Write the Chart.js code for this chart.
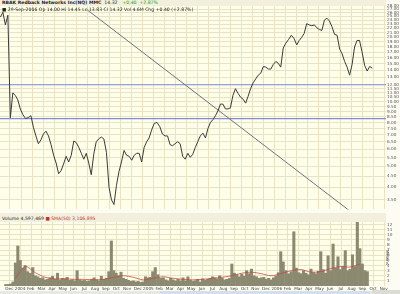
<!DOCTYPE html>
<html>
<head>
<meta charset="utf-8">
<script src="https://cdn.jsdelivr.net/npm/chart.js@4.4.0/dist/chart.umd.min.js"></script>
<style>
html, body { margin: 0; padding: 0; background: #fdfcf2; }
#wrap { position: relative; width: 400px; height: 294px; overflow: hidden; font-family: "DejaVu Sans", sans-serif; }
canvas { position: absolute; left: 0; }
#price { top: 0; }
#vol { top: 213px; }
.txt { position: absolute; white-space: nowrap; font-size: 4.6px; line-height: 5px; color: #222; }
#hdr1 { left: 0; top: 0; width: 386px; height: 6px; background: #f2f0dc; }
#hdr1 span, #hdr2 { padding-left: 2px; }
#hdr2 { left: 0; top: 7px; }
#volhdr { position: absolute; left: 0; top: 213px; width: 386px; height: 9px; background: #f2f0dc; }
#volhdr .txt { left: 2px; top: 3px; }
#millions { position: absolute; left: 390px; top: 250px; font-size: 4px; color: #444; transform: rotate(90deg); transform-origin: left top; }
#scroll { position: absolute; left: 0; top: 291px; width: 372px; height: 3px; background: #e8e8e2; }
#thumb { position: absolute; left: 160px; top: 291px; width: 210px; height: 3px; background: #d5deec; }
#btns { position: absolute; left: 372px; top: 290px; width: 28px; height: 4px; background: #dcdcd6; }
</style>
</head>
<body>
<div id="wrap">
  <canvas id="price" width="400" height="213"></canvas>
  <canvas id="vol" width="400" height="81"></canvas>
  <div id="hdr1" class="txt"><span><b>RBAK Redback Networks Inc(NQ) MMC</b> &nbsp;14.32 &nbsp;<span style="color:#1a9a1a">+0.40 &nbsp;+2.87%</span></span></div>
  <div id="hdr2" class="txt">&#9632; 29-Sep-2006 Op 14.00 Hi 14.45 Lo 13.83 Cl 14.32 Vol 4.6M Chg +0.40 (+2.87%)</div>
  <div id="volhdr"><div class="txt">Volume 4,597,469 <span style="color:#c03030">&#9632; SMA(50) 3,106,895</span></div></div>
  <div id="millions" class="txt">Millions</div>
  <div id="scroll"></div>
  <div id="thumb"></div>
  <div id="btns"></div>
</div>
<script>
// Weekly data, first week ending 5 Dec 2003
const firstWeek = '2003-12-05';

// Weekly closing prices (USD)
const weeklyClose = [
  24.8, 26.1, 22.8, 25.3, 8.43, 11.0, 10.7, 10.2, 9.26, 8.70,
  8.35, 8.43, 8.61, 7.60, 6.93, 6.37, 6.64, 7.07, 7.29, 6.93,
  6.31, 5.63, 5.18, 4.62, 4.77, 5.13, 5.57, 5.24, 5.63, 6.57,
  6.44, 6.12, 5.75, 5.40, 5.75, 5.18, 4.57, 5.69, 6.51, 6.71,
  6.85, 6.71, 5.81, 4.00, 3.49, 3.32, 4.08, 4.72, 5.24, 5.93,
  5.63, 5.57, 5.34, 5.63, 5.75, 5.75, 5.24, 6.12, 6.51, 6.78,
  7.37, 7.92, 8.01, 7.68, 7.07, 6.93, 6.93, 6.31, 6.24, 6.37,
  6.51, 6.37, 5.57, 5.40, 5.75, 5.51, 5.69, 6.12, 6.51, 6.93,
  7.14, 6.78, 7.52, 8.01, 8.26, 8.61, 9.07, 9.75, 9.75, 9.26,
  9.26, 9.36, 10.7, 11.5, 10.93, 10.49, 10.27, 9.85, 10.6, 11.5,
  12.25, 12.77, 13.3, 13.6, 14.6, 14.5, 14.2, 14.2, 14.92, 15.4,
  15.1, 14.5, 17.8, 18.75, 19.5, 20.4, 19.7, 18.4, 19.3, 19.95,
  20.8, 23.1, 22.8, 22.6, 22.8, 22.1, 21.7, 21.5, 24.0, 24.5,
  23.8, 22.4, 20.6, 20.4, 17.6, 16.7, 15.4, 14.5, 13.3, 14.92,
  18.0, 19.3, 19.3, 17.1, 14.8, 13.9, 14.6, 14.32
];

// Weekly volume (millions of shares)
const weeklyVolume = [
  0.3, 0.3, 0.4, 0.8, 4.5, 7.8, 5.0, 3.5, 4.0, 2.8,
  2.5, 3.6, 2.0, 1.8, 1.5, 1.6, 1.2, 1.3, 1.6, 1.9,
  1.3, 2.5, 1.2, 1.5, 1.4, 1.7, 1.1, 1.2, 1.0, 3.0,
  1.2, 1.0, 1.1, 0.9, 1.0, 1.3, 1.6, 1.2, 1.0, 1.9,
  1.3, 1.5, 2.8, 8.8, 3.0, 2.5, 2.0, 2.7, 1.5, 1.3,
  1.1, 0.9, 1.0, 0.8, 0.9, 0.7, 0.8, 1.8, 1.6, 1.7,
  2.8, 3.6, 2.2, 1.5, 1.6, 1.2, 1.0, 1.5, 1.2, 1.0,
  1.3, 1.0, 1.6, 1.0, 1.8, 1.1, 0.9, 1.0, 1.3, 0.8,
  1.4, 1.1, 1.3, 1.5, 1.8, 1.6, 1.4, 2.0, 1.5, 1.2,
  1.3, 1.5, 4.3, 2.5, 2.2, 1.8, 2.3, 1.9, 3.0, 2.4,
  3.3, 2.0, 1.8, 1.5, 1.6, 1.7, 1.3, 1.5, 1.2, 1.6,
  1.9, 2.6, 6.7, 4.7, 3.0, 2.4, 2.8, 10.6, 3.5, 2.6,
  2.4, 3.0, 2.5, 2.2, 3.3, 2.6, 2.4, 2.9, 6.7, 3.2,
  2.5, 5.9, 3.0, 8.2, 3.5, 5.7, 3.2, 3.8, 6.9, 3.0,
  3.3, 6.1, 3.8, 12.7, 7.3, 4.3, 3.0, 2.8
];

// 50-day volume average, read every 4th week starting at week 4
const volumeAvg50 = [
  1.5, 3.8, 2.6, 1.7, 1.4, 1.4, 1.3, 1.3, 1.2, 1.3,
  1.7, 2.0, 1.7, 1.2, 1.5, 1.8, 1.5, 1.3, 1.2, 1.3,
  1.5, 1.7, 2.0, 2.5, 2.7, 2.4, 2.0, 2.4, 3.0, 3.2,
  2.7, 2.8, 3.4, 3.8, 3.7, 4.3
];

// Trend line and the two horizontal lines
const trendDates = ['2004-08-03', '2006-08-03'];
const trendPrices = [26.7, 3.05];
const levelPrices = [12.0, 8.35];

// Axis labels
const priceTicks = [3.5, 4, 4.5, 5, 5.5, 6, 6.5, 7, 7.5, 8, 8.5, 9, 9.5, 10, 10.5, 11, 11.5, 12,
  13, 14, 15, 16, 17, 18, 19, 20, 21, 22, 23, 24, 25, 26, 27, 28];
const volumeTicks = [1, 2, 3, 4, 5, 6, 7, 8, 9, 10, 11, 12];
const monthNames = ['Jan', 'Feb', 'Mar', 'Apr', 'May', 'Jun', 'Jul', 'Aug', 'Sep', 'Oct', 'Nov', 'Dec'];

// months since 1 Jan 2004
function toMonths(d) {
  const y = d.getUTCFullYear(), m = d.getUTCMonth();
  const days = new Date(Date.UTC(y, m + 1, 0)).getUTCDate();
  return (y - 2004) * 12 + m + (d.getUTCDate() - 1) / days;
}
function parseDate(s) {
  const p = s.split('-').map(Number);
  return new Date(Date.UTC(p[0], p[1] - 1, p[2]));
}
function weekX(i) {
  const d = parseDate(firstWeek);
  d.setUTCDate(d.getUTCDate() + 7 * i);
  return toMonths(d);
}

const xMin = -0.909, xMax = 34.18;
const monthTicks = [];
for (let m = -1; m <= 34; m++) monthTicks.push(m);
function monthLabel(m) {
  const idx = ((m % 12) + 12) % 12;
  return idx === 0 ? String(2004 + Math.floor(m / 12)) : monthNames[idx];
}

const gridColor = '#e7e3c4';
const plotBg = {
  id: 'plotBg',
  beforeDraw(chart) {
    const a = chart.chartArea, c = chart.ctx;
    c.save();
    c.fillStyle = '#ffffe9';
    c.fillRect(a.left, a.top, a.right - a.left, a.bottom - a.top);
    c.restore();
  }
};

const xScale = (showLabels) => ({
  type: 'linear', min: xMin, max: xMax,
  afterBuildTicks: s => { s.ticks = monthTicks.map(v => ({ value: v })); },
  afterFit: s => { s.height = showLabels ? 5 : 0; },
  ticks: {
    display: showLabels, autoSkip: false, maxRotation: 0, padding: 0, labelOffset: 5,
    font: { family: 'DejaVu Sans', size: 4.2 }, color: '#444',
    callback: v => monthLabel(v)
  },
  grid: { color: gridColor, drawTicks: false },
  border: { display: false }
});

// Price panel
new Chart(document.getElementById('price'), {
  type: 'line',
  data: {
    datasets: [
      {
        data: weeklyClose.map((v, i) => ({ x: weekX(i), y: v })),
        borderColor: '#3a3a3a', borderWidth: 1, pointRadius: 0, tension: 0
      },
      {
        data: trendDates.map((d, i) => ({ x: toMonths(parseDate(d)), y: trendPrices[i] })),
        borderColor: '#70707e', borderWidth: 1, pointRadius: 0
      },
      ...levelPrices.map(p => ({
        data: [{ x: xMin, y: p }, { x: xMax, y: p }],
        borderColor: '#7d8de2', borderWidth: 1.2, pointRadius: 0
      }))
    ]
  },
  options: {
    responsive: false, animation: false,
    layout: { padding: 0 },
    plugins: { legend: { display: false }, tooltip: { enabled: false } },
    scales: {
      x: xScale(false),
      y: {
        type: 'logarithmic', position: 'right', min: 3.148, max: 28.68,
        afterBuildTicks: s => { s.ticks = priceTicks.map(v => ({ value: v })); },
        afterFit: s => { s.width = 14; },
        ticks: {
          autoSkip: false, padding: 1, font: { family: 'DejaVu Sans', size: 4.2 }, color: '#555',
          callback: v => Number(v).toFixed(2)
        },
        grid: { color: gridColor, drawTicks: false },
        border: { display: false }
      }
    }
  },
  plugins: [plotBg]
});

// Volume panel
new Chart(document.getElementById('vol'), {
  type: 'bar',
  data: {
    datasets: [
      {
        type: 'line',
        data: volumeAvg50.map((v, k) => ({ x: weekX(4 + 4 * k), y: v })),
        borderColor: '#c04a4a', borderWidth: 0.8, pointRadius: 0, tension: 0.3
      },
      {
        data: weeklyVolume.map((v, i) => ({ x: weekX(i), y: v })),
        backgroundColor: '#8b8970', barPercentage: 1, categoryPercentage: 1
      }
    ]
  },
  options: {
    responsive: false, animation: false,
    layout: { padding: { top: 9, bottom: 3, left: 0, right: 0 } },
    plugins: { legend: { display: false }, tooltip: { enabled: false } },
    scales: {
      x: xScale(true),
      y: {
        position: 'right', min: 0, max: 12.5,
        afterBuildTicks: s => { s.ticks = volumeTicks.map(v => ({ value: v })); },
        afterFit: s => { s.width = 14; },
        ticks: { autoSkip: false, padding: 1, font: { family: 'DejaVu Sans', size: 4.2 }, color: '#555' },
        grid: { color: gridColor, drawTicks: false },
        border: { display: false }
      }
    }
  },
  plugins: [plotBg]
});
</script>
</body>
</html>
